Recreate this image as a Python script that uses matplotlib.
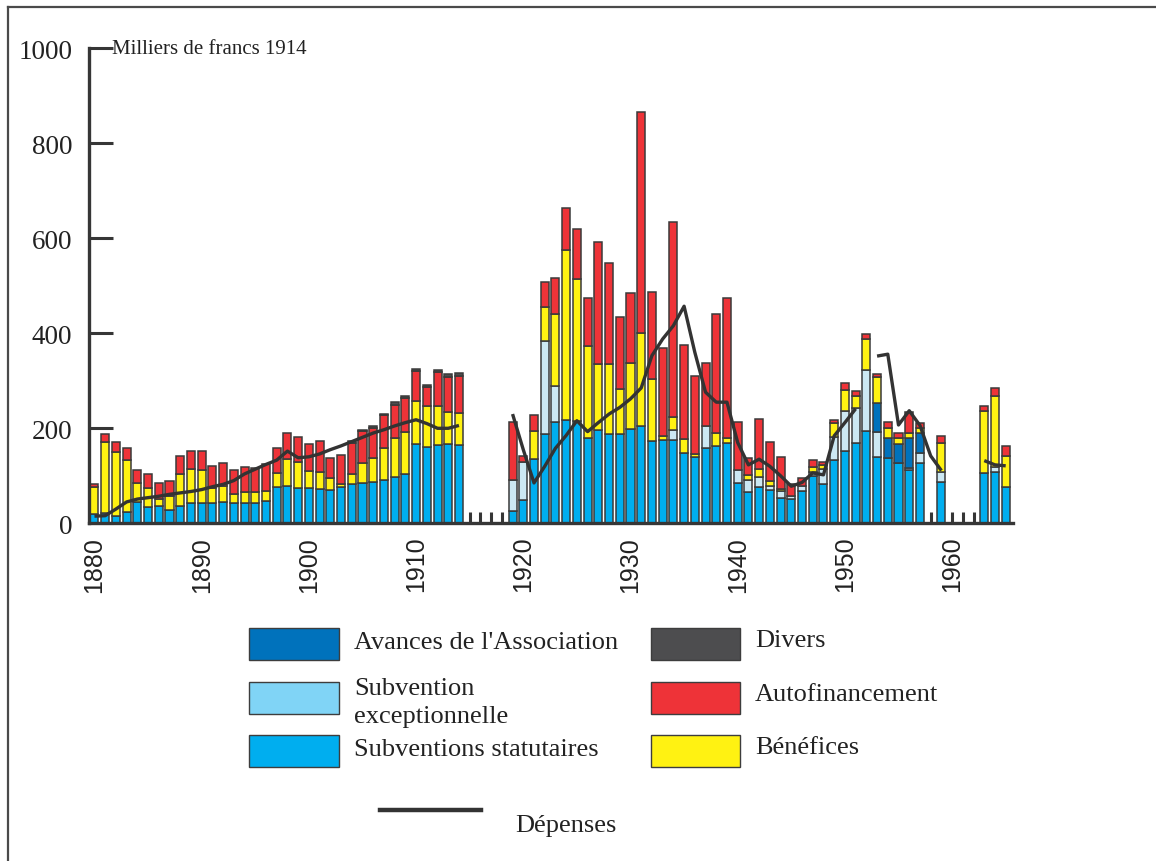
import numpy as np
import matplotlib
matplotlib.use('Agg')
import matplotlib.pyplot as plt
from matplotlib.patches import Rectangle
from matplotlib.lines import Line2D

# Years with a bar (war years and 1958, 1960-62 are missing)
YEARS = list(range(1880, 1915)) + list(range(1919, 1958)) + [1959, 1963, 1964, 1965]

# Ressources, milliers de francs 1914
STATUTAIRES = [20, 22, 16, 23, 45, 34, 37, 27, 36, 43,
               42, 42, 44, 42, 42, 42, 46, 76, 78, 74,
               75, 72, 70, 77, 82, 84, 88, 91, 97, 104,
               166, 161, 164, 166, 164,
               25, 50, 135, 188, 213, 218, 216, 180, 196, 187,
               188, 198, 205, 173, 175, 175, 149, 139, 158, 162,
               170, 84, 66, 76, 71, 53, 51, 67, 99, 83,
               134, 153, 169, 195, 139, 137, 127, 112, 128,
               88, 106, 107, 76]
EXCEPTIONNELLE = [0] * 35 + [
               66, 80, 0, 196, 77, 0, 0, 0, 0, 0,
               0, 0, 0, 0, 0, 21, 0, 0, 47, 0,
               0, 29, 25, 22, 7, 14, 7, 12, 10, 31,
               47, 84, 73, 128, 53, 0, 0, 5, 19,
               21, 0, 11, 0]
AVANCES = [0] * 35 + [0] * 34 + [61, 43, 41, 63, 43] + [0, 0, 0, 0]
BENEFICES = [56, 150, 134, 110, 39, 40, 14, 30, 68, 71,
             71, 32, 34, 20, 23, 23, 23, 29, 57, 56,
             35, 37, 25, 6, 21, 44, 49, 68, 82, 88,
             92, 85, 82, 68, 68,
             0, 0, 59, 72, 151, 358, 298, 194, 139, 148,
             95, 139, 195, 131, 8, 27, 29, 6, 0, 28,
             10, 0, 11, 16, 12, 5, 0, 0, 9, 9,
             30, 44, 25, 64, 54, 20, 11, 10, 10,
             61, 130, 149, 65]
AUTOFINANCEMENT = [7, 15, 21, 26, 29, 30, 33, 33, 37, 38,
                   40, 47, 48, 51, 54, 52, 55, 54, 56, 52,
                   57, 65, 43, 60, 67, 66, 64, 69, 71, 71,
                   62, 40, 72, 74, 79,
                   122, 12, 33, 51, 75, 88, 106, 100, 257, 214,
                   151, 148, 465, 182, 186, 411, 198, 166, 132, 251,
                   294, 100, 35, 106, 81, 67, 24, 16, 15, 7,
                   7, 14, 12, 12, 7, 13, 12, 44, 11,
                   14, 12, 17, 21]
DIVERS = [0] * 24 + [3, 3, 3, 3, 5, 4, 5, 6, 5, 6, 5] + [0] * 43

# Dépenses, 1880-1965 (nan = no value)
DEP_YEARS = list(range(1880, 1966))
nan = np.nan
DEPENSES = [15, 16, 30, 45, 51, 54, 57, 61, 64, 67,
            71, 77, 82, 90, 104, 114, 124, 133, 152, 138,
            140, 146, 155, 163, 172, 181, 190, 197, 205, 212,
            218, 210, 200, 200, 206, nan, nan, nan, nan, 230,
            155, 85, 120, 158, 185, 216, 193, 212, 230, 244,
            262, 285, 353, 388, 416, 457, 360, 276, 255, 255,
            170, 123, 135, 120, 100, 78, 86, 106, 102, 184,
            212, 241, nan, 352, 356, 207, 237, 206, 142, 111,
            nan, nan, nan, 132, 123, 121]

GAP_YEARS = [1915, 1916, 1917, 1918, 1958, 1960, 1961, 1962]
DECADES = list(range(1880, 1970, 10))

C_STAT = '#00aeef'
C_EXC = '#cce8f3'
C_EXC_LEG = '#80d4f6'
C_AVANCES = '#0072bc'
C_BENEF = '#fff212'
C_AUTOF = '#ee3338'
C_DIVERS = '#4d4d4f'
DARK = '#363636'
SERIF = 'Liberation Serif'

fig = plt.figure(figsize=(11.56, 8.62), dpi=100)
W, H = 1156, 862
ax = fig.add_axes([89 / W, 1 - 524.3 / H, 924 / W, 475 / H])

years = np.array(YEARS, dtype=float)
stack = [(STATUTAIRES, C_STAT), (EXCEPTIONNELLE, C_EXC), (AVANCES, C_AVANCES),
         (BENEFICES, C_BENEF), (AUTOFINANCEMENT, C_AUTOF), (DIVERS, C_DIVERS)]
bottom = np.zeros(len(years))
for vals, col in stack:
    v = np.array(vals, dtype=float)
    m = v > 0
    ax.bar(years[m], v[m], bottom=bottom[m], width=0.75, color=col,
           edgecolor='#3a3a3a', linewidth=1.1, zorder=2)
    bottom += v

ax.plot(DEP_YEARS, DEPENSES, color='#333333', lw=2.4, zorder=3,
        solid_capstyle='butt', solid_joinstyle='round')

# short marks on the baseline for years without data
ax.vlines(GAP_YEARS, 0, 24, color=DARK, lw=2.2, zorder=3)

ax.set_xlim(1879.49, 1965.68)
ax.set_ylim(0, 1000)
for s in ('top', 'right'):
    ax.spines[s].set_visible(False)
for s in ('left', 'bottom'):
    ax.spines[s].set_color(DARK)
    ax.spines[s].set_linewidth(2.4)

ax.set_yticks([0, 200, 400, 600, 800, 1000])
ax.tick_params(axis='y', direction='in', length=17, width=2.2, color=DARK,
               pad=12, labelsize=19.5, labelcolor='#222222')
for lab in ax.get_yticklabels():
    lab.set_family(SERIF)
ax.set_xticks(DECADES)
ax.set_xticklabels([str(d) for d in DECADES], rotation=90, family='Liberation Sans',
                   fontsize=18, color='#222222')
ax.tick_params(axis='x', length=0, pad=9)

ax.text(1881.6, 1000, 'Milliers de francs 1914', family=SERIF, fontsize=15,
        color='#222222', ha='left', va='center')

# overlay in pixel coordinates for the frame and the legend
ov = fig.add_axes([0, 0, 1, 1], zorder=-1)
ov.set_xlim(0, W)
ov.set_ylim(H, 0)
ov.axis('off')
ov.plot([8, W], [8, 8], color='#4a4a4a', lw=1.6)
ov.plot([8, 8], [8, H], color='#4a4a4a', lw=1.6)

leg_left = [(C_AVANCES, "Avances de l'Association"),
            (C_EXC_LEG, 'Subvention\nexceptionnelle'),
            (C_STAT, 'Subventions statutaires')]
leg_right = [(C_DIVERS, 'Divers'),
             (C_AUTOF, 'Autofinancement'),
             (C_BENEF, 'Bénéfices')]
row_y = [629, 683, 736]
for (col, txt), y in zip(leg_left, row_y):
    ov.add_patch(Rectangle((249, y), 90, 32, facecolor=col, edgecolor='#3d3d3d', lw=1.0))
    ty = y + 14 if '\n' not in txt else y + 20
    ov.text(354, ty, txt, family=SERIF, fontsize=19, color='#222222',
            va='center', ha='left', linespacing=1.35)
for (col, txt), y in zip(leg_right, row_y):
    ov.add_patch(Rectangle((651, y), 89, 32, facecolor=col, edgecolor='#3d3d3d', lw=1.0))
    ov.text(755, y + 12, txt, family=SERIF, fontsize=19, color='#222222',
            va='center', ha='left')
ov.add_line(Line2D([380, 481], [811, 811], color='#333333', lw=3.2))
ov.text(515, 826, 'Dépenses', family=SERIF, fontsize=19, color='#222222',
        va='center', ha='left')

fig.savefig('out.png', dpi=100)
